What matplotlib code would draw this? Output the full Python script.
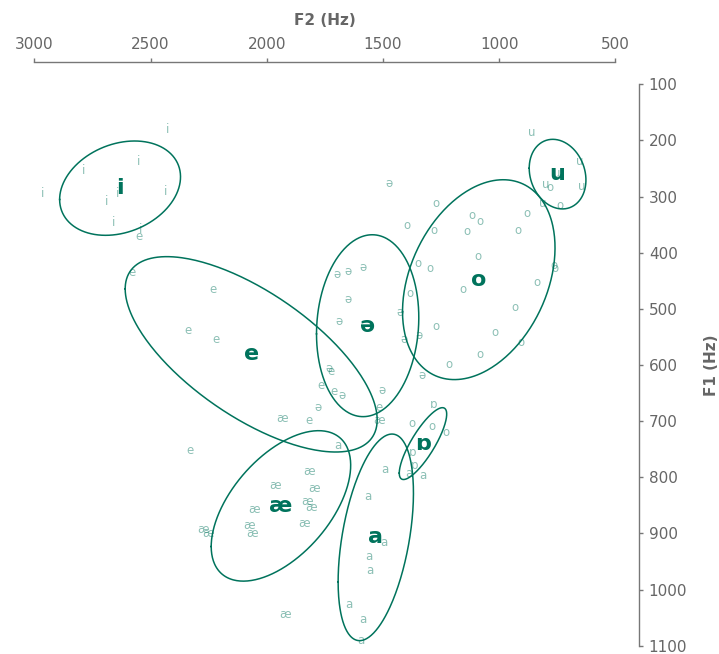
import numpy as np
import matplotlib.pyplot as plt

# vowel categories: mean formants and 2-SD spread ellipses
vowels = ["i", "u", "o", "ə", "e", "æ", "a", "ɒ"]
mean_f2 = [2631, 749, 1088, 1566, 2067, 1939, 1531, 1328]
mean_f1 = [285, 260, 448, 530, 581, 851, 907, 740]
sd_f2 = [130, 61, 164, 110, 271, 150, 81, 51]
sd_f1 = [42, 31, 89, 81, 87, 67, 92, 32]
corr = [0.24, -0.17, 0.32, 0.09, -0.67, 0.54, 0.43, 0.82]

# individual tokens
tok_vowel = (["i"] * 9 + ["u"] * 6 + ["o"] * 27 + ["ə"] * 14 + ["e"] * 11
             + ["æ"] * 14 + ["a"] * 11 + ["ɒ"] * 3)
tok_f2 = [
    2426, 2550, 2789, 2964, 2435, 2640, 2689, 2657, 2545,
    858, 652, 800, 647, 812, 752,
    1272, 1397, 1282, 1117, 1084, 1139, 882, 918, 1092, 1351, 1299, 765, 761,
    1157, 1384, 837, 931, 1272, 1019, 908, 1083, 1216, 782, 739, 1377, 1288, 1231,
    1474, 1699, 1652, 1588, 1652, 1689, 1427, 1409, 1345, 1334, 1506, 1731, 1678, 1779,
    2579, 2233, 2340, 2220, 1767, 1710, 1817, 1516, 1725, 2550, 2330,
    1936, 1819, 1965, 1798, 1826, 1810, 2056, 1840, 2074, 2062, 2276, 2253, 1516, 1922,
    1492, 1563, 1496, 1559, 1556, 1645, 1588, 1595, 1387, 1327, 1693,
    1284, 1374, 1366,
]
tok_f1 = [
    180, 238, 254, 294, 291, 294, 309, 346, 358,
    186, 238, 279, 282, 313, 258,
    313, 352, 361, 334, 345, 363, 330, 361, 407, 420, 429, 422, 428,
    465, 472, 453, 498, 532, 542, 560, 582, 600, 283, 315, 704, 710, 720,
    276, 438, 434, 426, 484, 523, 507, 554, 548, 618, 646, 606, 655, 676,
    435, 465, 538, 555, 637, 647, 698, 675, 612, 371, 753,
    695, 789, 815, 820, 843, 854, 857, 883, 886, 901, 893, 900, 698, 1045,
    786, 834, 917, 942, 966, 1026, 1054, 1090, 793, 797, 744,
    671, 755, 779,
]

GREEN = "#00735C"
GREY = "#666666"

fig = plt.figure(figsize=(7.19, 6.54), dpi=100)
ax = fig.add_axes([0.0477, 0.0127, 0.8083, 0.8584])

for v, f2, f1 in zip(tok_vowel, tok_f2, tok_f1):
    ax.text(f2, f1, v, color=GREEN, alpha=0.45, fontsize=8.5,
            ha="center", va="center")

t = np.linspace(0, 2 * np.pi, 300)
for v, m2, m1, s2, s1, r in zip(vowels, mean_f2, mean_f1, sd_f2, sd_f1, corr):
    ex = m2 + 2 * s2 * np.cos(t)
    ey = m1 + 2 * s1 * (r * np.cos(t) + np.sqrt(1 - r ** 2) * np.sin(t))
    ax.plot(ex, ey, color=GREEN, lw=1.1)
    ax.text(m2, m1, v, color=GREEN, fontsize=16, fontweight="bold",
            ha="center", va="center")

ax.set_xlim(3000, 500)
ax.set_ylim(1100, 100)
ax.set_xticks(np.arange(3000, 499, -500))
ax.set_yticks(np.arange(100, 1101, 100))

ax.xaxis.tick_top()
ax.yaxis.tick_right()
ax.xaxis.set_label_position("top")
ax.yaxis.set_label_position("right")
for side in ["left", "bottom"]:
    ax.spines[side].set_visible(False)
ax.spines["top"].set_position(("outward", 16))
ax.spines["right"].set_position(("outward", 17))
for side in ["top", "right"]:
    ax.spines[side].set_color("#777777")
    ax.spines[side].set_linewidth(1.0)
ax.tick_params(colors="#777777", labelcolor=GREY, labelsize=11, length=3, width=1)
ax.tick_params(axis="x", pad=4)
ax.tick_params(axis="y", pad=4)

ax.set_xlabel("F2 (Hz)", fontsize=11, fontweight="bold", color=GREY, labelpad=9)
ax.set_ylabel("F1 (Hz)", fontsize=11, fontweight="bold", color=GREY, labelpad=12)
ax.patch.set_visible(False)

fig.savefig("out.png", dpi=100)
